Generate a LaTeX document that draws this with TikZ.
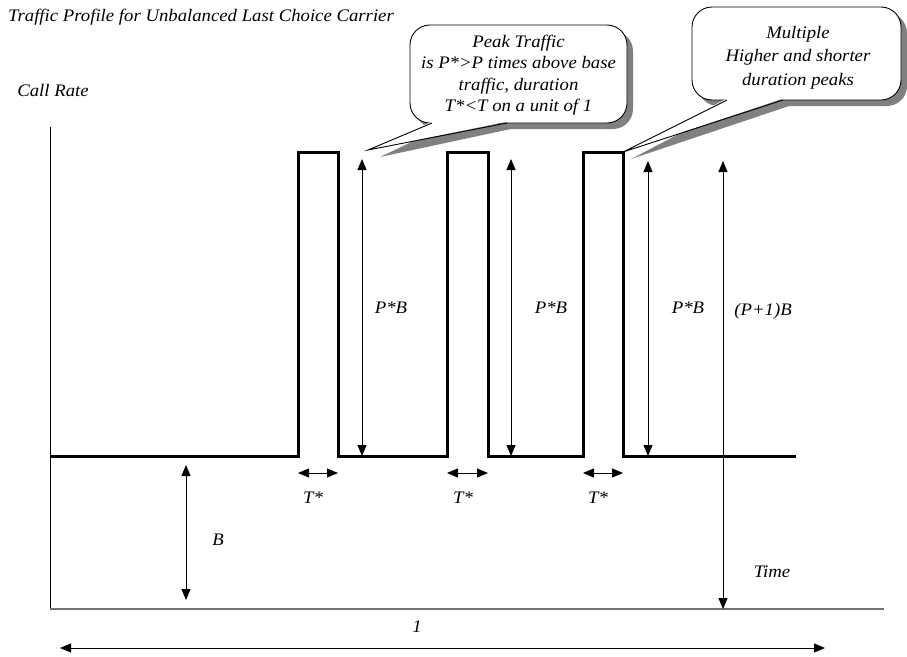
\documentclass[tikz,border=0pt]{standalone}
\usepackage{fontspec}
\setmainfont{Liberation Serif}[FakeStretch=1.065]
\usetikzlibrary{arrows.meta,shadows}
\begin{document}
\begin{tikzpicture}[x=1pt,y=-1pt,
  lbl/.style={font=\fontsize{17.6}{21.5}\selectfont\itshape, inner sep=0pt},
  dim/.style={{Triangle[length=11pt,width=9pt]}-{Triangle[length=11pt,width=9pt]}, line width=0.9pt},
  sig/.style={line width=3pt, line join=miter},
  callout/.style={draw, line width=0.9pt, fill=white, rounded corners=20pt, inner sep=0pt,
    drop shadow={shadow xshift=6pt, shadow yshift=-6pt, fill=black!50, opacity=1}},
  callouttext/.style={lbl, align=center},
  tailshadow/.style={fill=black!50, draw=none},
  tailfill/.style={fill=white, draw=none},
  tailline/.style={line width=0.9pt}
]
\useasboundingbox (0,0) rectangle (907,656);

% axes
\coordinate (ytop) at (50,127);
\coordinate (orig) at (50,609);
\coordinate (xend) at (884,609);
\draw[line width=0.9pt] (ytop) -- (orig);
\draw[line width=1.5pt, black!55] (orig) -- (xend);

% signal
\coordinate (s0) at (50,456);
\coordinate (s1) at (796,456);
\draw[sig] (s0) -- (298,456) -- (298,152) -- (338,152) -- (338,456)
  -- (447,456) -- (447,152) -- (488,152) -- (488,456)
  -- (583,456) -- (583,152) -- (623,152) -- (623,456) -- (s1);

% texts
\node[lbl, anchor=west] (title) at (8,17) {Traffic Profile for Unbalanced Last Choice Carrier};
\node[lbl] (callrate) at (53,90) {Call Rate};

% P*B arrows
\coordinate (a1t) at (362,159); \coordinate (a1b) at (362,456);
\coordinate (a2t) at (511,159); \coordinate (a2b) at (511,456);
\coordinate (a3t) at (648,161); \coordinate (a3b) at (648,456);
\coordinate (a4t) at (723,161); \coordinate (a4b) at (723,609);
\draw[dim] (a1t) -- (a1b);
\draw[dim] (a2t) -- (a2b);
\draw[dim] (a3t) -- (a3b);
\draw[dim] (a4t) -- (a4b);
\node[lbl] (pb1) at (391,308) {P*B};
\node[lbl] (pb2) at (551,308) {P*B};
\node[lbl] (pb3) at (688,308) {P*B};
\node[lbl] (p1b) at (763,311) {(P+1)B};

% T* arrows
\coordinate (t1l) at (298,473); \coordinate (t1r) at (338,473);
\coordinate (t2l) at (447,473); \coordinate (t2r) at (488,473);
\coordinate (t3l) at (583,473); \coordinate (t3r) at (623,473);
\draw[dim] (t1l) -- (t1r);
\draw[dim] (t2l) -- (t2r);
\draw[dim] (t3l) -- (t3r);
\node[lbl] (ts1) at (313,498) {T*};
\node[lbl] (ts2) at (463,498) {T*};
\node[lbl] (ts3) at (598,498) {T*};

% B arrow
\coordinate (bt) at (186,465); \coordinate (bb) at (186,600);
\draw[dim] (bt) -- (bb);
\node[lbl] (blbl) at (218,540) {B};

\node[lbl] (time) at (772,572) {Time};

% unit arrow
\coordinate (ul) at (60,648); \coordinate (ur) at (825,648);
\draw[dim] (ul) -- (ur);
\node[lbl] (one) at (417,627) {1};

% callout 1
\coordinate (c1tip) at (368,150);
\draw[tailshadow] (445,126) -- (380,157) -- (520,127) -- cycle;
\node[callout, minimum width=217pt, minimum height=98pt] (c1) at (518.5,74) {};
\fill[tailfill] (432,121.6) -- (c1tip) -- (507,121.6) -- cycle;
\draw[tailline] (432,123) -- (c1tip) -- (507,123);
\node[callouttext] (c1text) at (518.5,75)
  {Peak Traffic\\is P*>P times above base\\traffic, duration\\T*<T on a unit of 1};

% callout 2
\coordinate (c2tip) at (623,152);
\draw[tailshadow] (740,102) -- (631,159) -- (798,103) -- cycle;
\node[callout, minimum width=209pt, minimum height=93pt] (c2) at (796.5,53.5) {};
\fill[tailfill] (727,98.6) -- (c2tip) -- (783,98.6) -- cycle;
\draw[tailline] (727,100) -- (c2tip) -- (783,100);
\node[callouttext, font=\fontsize{17.6}{23.5}\selectfont\itshape] (c2text) at (798,57.5)
  {Multiple\\Higher and shorter\\duration peaks};
\end{tikzpicture}
\end{document}
